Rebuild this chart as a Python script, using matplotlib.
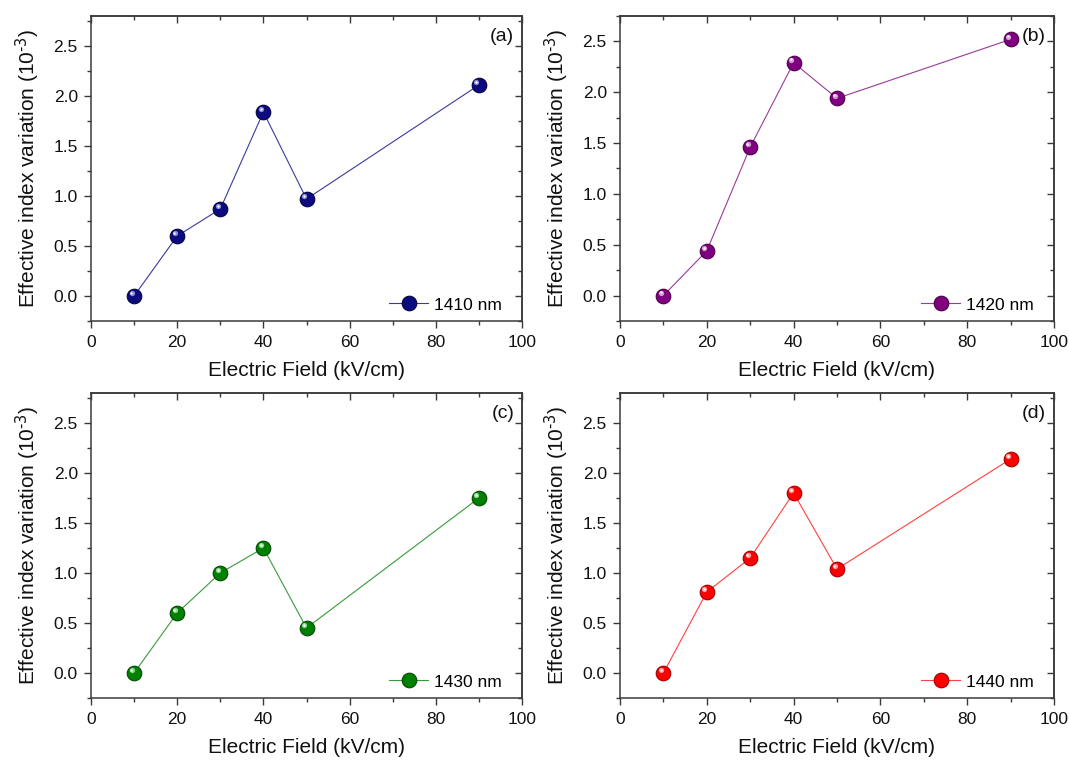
import matplotlib
matplotlib.use("Agg")
import matplotlib.pyplot as plt
from matplotlib.ticker import MultipleLocator
from matplotlib.transforms import offset_copy

plt.rcParams["font.family"] = ["Liberation Sans", "DejaVu Sans"]
plt.rcParams["mathtext.default"] = "regular"

# Electric field steps (kV/cm)
field = [10, 20, 30, 40, 50, 90]

# Effective index variation (x 10^-3) per wavelength
dn_1410 = [0.00, 0.60, 0.87, 1.84, 0.97, 2.11]
dn_1420 = [0.00, 0.44, 1.46, 2.29, 1.94, 2.52]
dn_1430 = [0.00, 0.60, 1.00, 1.25, 0.45, 1.75]
dn_1440 = [0.00, 0.81, 1.15, 1.80, 1.04, 2.14]

series = [dn_1410, dn_1420, dn_1430, dn_1440]
labels = ["1410 nm", "1420 nm", "1430 nm", "1440 nm"]
panel_tags = ["(a)", "(b)", "(c)", "(d)"]
colors = ["#0c0c80", "#800080", "#008000", "#ff0000"]
line_colors = ["#3a3aa0", "#9a3a9a", "#3a9a3a", "#ff4040"]
edge_colors = ["#050540", "#4a004a", "#004a00", "#a00000"]
glow_colors = ["#8c8cd8", "#d89ad8", "#8cd88c", "#ff9c9c"]
y_tops = [2.8, 2.75, 2.8, 2.8]

W, H = 1069, 760
fig = plt.figure(figsize=(W / 100, H / 100), dpi=100)

# axes boxes in pixels: left, top, right, bottom
boxes = [(91, 16, 522, 321), (620, 16, 1054, 321),
         (91, 393, 522, 698), (620, 393, 1054, 698)]

spine_col = "#3a3a3a"

for i, (vals, lab, tag, col, lcol, ecol, gcol, ytop) in enumerate(
        zip(series, labels, panel_tags, colors, line_colors, edge_colors,
            glow_colors, y_tops)):
    l, t, r, b = boxes[i]
    ax = fig.add_axes([l / W, 1 - b / H, (r - l) / W, (b - t) / H])

    line, = ax.plot(field, vals, "-", color=lcol, lw=0.8, marker="o",
                    markersize=10.5, markerfacecolor=col, markeredgecolor=ecol,
                    markeredgewidth=0.8, label=lab, zorder=3)
    # specular highlight on each sphere
    hl = offset_copy(ax.transData, fig=fig, x=-1.8, y=2.0, units="points")
    ax.plot(field, vals, "o", color=gcol, markersize=3.8, markeredgewidth=0,
            transform=hl, zorder=4)
    hl2 = offset_copy(ax.transData, fig=fig, x=-2.0, y=2.4, units="points")
    ax.plot(field, vals, "o", color="white", markersize=1.7, markeredgewidth=0,
            transform=hl2, zorder=5)

    ax.set_xlim(0, 100)
    ax.set_ylim(-0.25, ytop)
    ax.xaxis.set_major_locator(MultipleLocator(20))
    ax.xaxis.set_minor_locator(MultipleLocator(10))
    ax.yaxis.set_major_locator(MultipleLocator(0.5))
    ax.yaxis.set_minor_locator(MultipleLocator(0.25))
    ax.yaxis.set_major_formatter(plt.FormatStrFormatter("%.1f"))

    ax.tick_params(which="major", direction="out", length=5, width=1,
                   color=spine_col, labelsize=12.5, labelcolor="#111111", pad=5)
    ax.tick_params(which="minor", direction="out", length=3, width=1,
                   color=spine_col)
    ax.tick_params(axis="y", which="major", pad=4.5)

    # mirrored inward ticks on top and right
    top = ax.secondary_xaxis("top")
    top.xaxis.set_major_locator(MultipleLocator(20))
    top.xaxis.set_minor_locator(MultipleLocator(10))
    top.tick_params(which="major", direction="in", length=5, width=1,
                    color=spine_col, labeltop=False)
    top.tick_params(which="minor", direction="in", length=3, width=1,
                    color=spine_col)
    right = ax.secondary_yaxis("right")
    right.yaxis.set_major_locator(MultipleLocator(0.5))
    right.yaxis.set_minor_locator(MultipleLocator(0.25))
    right.tick_params(which="major", direction="in", length=5, width=1,
                      color=spine_col, labelright=False)
    right.tick_params(which="minor", direction="in", length=3, width=1,
                      color=spine_col)
    for sec in (top, right):
        for sp in sec.spines.values():
            sp.set_color(spine_col)
            sp.set_linewidth(1.1)

    for sp in ax.spines.values():
        sp.set_color(spine_col)
        sp.set_linewidth(1.1)

    ax.set_xlabel("Electric Field (kV/cm)", fontsize=15, labelpad=8,
                  color="#111111")
    ax.set_ylabel("Effective index variation (10$^{\\text{-3}}$)", fontsize=15,
                  labelpad=8, color="#111111")

    ax.text(0.982, 0.962, tag, transform=ax.transAxes, ha="right", va="top",
            fontsize=14, color="#111111")

    ax.legend(handles=[line], loc="lower right", frameon=False, fontsize=12.5,
              handlelength=2.25, handletextpad=0.35, borderaxespad=0,
              bbox_to_anchor=(0.97, 0.005))

fig.savefig("out.png", dpi=100)
